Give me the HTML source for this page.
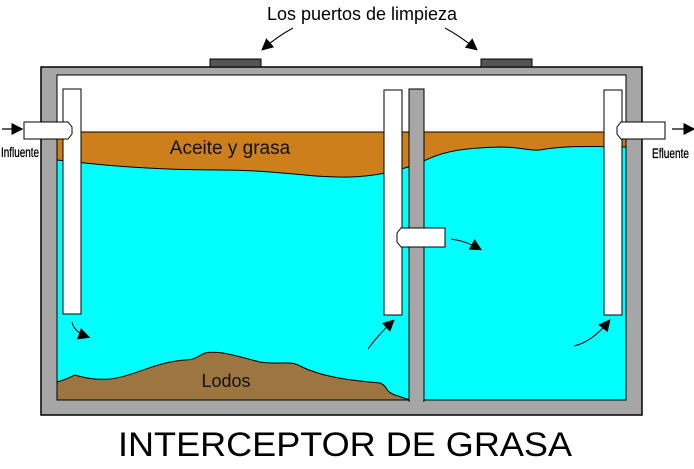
<!DOCTYPE html>
<html><head><style>body{margin:0;background:#fff}svg{display:block}</style></head><body>
<svg width="694" height="469" viewBox="0 0 694 469" xmlns="http://www.w3.org/2000/svg" font-family="Liberation Sans, sans-serif">
<defs><marker id="ah" viewBox="0 0 10 10" refX="8" refY="5" markerWidth="12" markerHeight="12" markerUnits="userSpaceOnUse" orient="auto"><path d="M0,0L10,5L0,10z" fill="#000"/></marker></defs>
<rect x="41" y="67" width="601" height="348" fill="#a6a6a6" stroke="#000" stroke-width="1.5"/>
<rect x="57" y="75" width="569" height="325" fill="#fff" stroke="#000" stroke-width="1"/>
<rect x="57" y="132" width="569" height="50" fill="#cc7f1a" stroke="#000" stroke-width="1"/>
<path d="M57,160 C100,165 150,170 220,170 C280,170 310,178 350,177 C380,176 400,170 420,163 C440,152 460,148 500,147 C520,147 530,151 540,150 C560,146 590,146 626,147 L626,400 L57,400 Z" fill="#00ffff" stroke="#000" stroke-width="1"/>
<path d="M57,382 C65,380 70,377 75,375 C85,378 95,380 110,379 C135,376 155,362 185,360 C195,360 198,356 205,353 C220,350 240,357 260,362 C280,365 290,360 300,366 C320,376 345,380 380,383 C388,386 385,392 395,395 L410,400 L57,400 Z" fill="#9c7540" stroke="#000" stroke-width="1"/>
<rect x="409" y="89" width="15" height="312" fill="#a6a6a6" stroke="#000" stroke-width="1"/>
<rect x="410" y="399" width="13" height="15" fill="#a6a6a6"/>
<rect x="63" y="89" width="18" height="225" fill="#fff" stroke="#000" stroke-width="1"/>
<rect x="384" y="90" width="18" height="225" fill="#fff" stroke="#000" stroke-width="1"/>
<rect x="604" y="90" width="18" height="225" fill="#fff" stroke="#000" stroke-width="1"/>
<path d="M24,122 L68,122 L72,127 L72,134 L68,139 L24,139 Z" fill="#fff" stroke="#000" stroke-width="1"/>
<path d="M665,122 L621,122 L617,127 L617,134 L621,139 L665,139 Z" fill="#fff" stroke="#000" stroke-width="1"/>
<path d="M445,228 L401,228 L397,233 L397,242 L401,247 L445,247 Z" fill="#fff" stroke="#000" stroke-width="1"/>
<rect x="210" y="59" width="51" height="8" fill="#555" stroke="#000" stroke-width="1"/>
<rect x="481" y="59" width="51" height="8" fill="#555" stroke="#000" stroke-width="1"/>
<line x1="2" y1="129" x2="21" y2="129" stroke="#000" stroke-width="1.2" marker-end="url(#ah)"/>
<line x1="672" y1="129" x2="693" y2="129" stroke="#000" stroke-width="1.2" marker-end="url(#ah)"/>
<path d="M72,322 Q74,332 88,337" fill="none" stroke="#000" stroke-width="1" marker-end="url(#ah)"/>
<path d="M368,349 Q378,335 393,321" fill="none" stroke="#000" stroke-width="1" marker-end="url(#ah)"/>
<path d="M574,346 Q592,342 609,321" fill="none" stroke="#000" stroke-width="1" marker-end="url(#ah)"/>
<path d="M451,239 Q466,241 480,249" fill="none" stroke="#000" stroke-width="1" marker-end="url(#ah)"/>
<path d="M293,28 Q278,36 263,49" fill="none" stroke="#000" stroke-width="1" marker-end="url(#ah)"/>
<path d="M445,28 Q460,36 476,49" fill="none" stroke="#000" stroke-width="1" marker-end="url(#ah)"/>
<text x="362" y="20" font-size="18" text-anchor="middle">Los puertos de limpieza</text>
<text x="230" y="154" font-size="19" text-anchor="middle" fill="#111">Aceite y grasa</text>
<text x="226" y="387" font-size="18" text-anchor="middle" fill="#111">Lodos</text>
<text x="1" y="157" font-size="14" stroke="#000" stroke-width="0.3" textLength="38" lengthAdjust="spacingAndGlyphs">Influente</text>
<text x="652" y="158" font-size="14" stroke="#000" stroke-width="0.3" textLength="37" lengthAdjust="spacingAndGlyphs">Efluente</text>
<text x="118" y="456" font-size="34" textLength="454" lengthAdjust="spacingAndGlyphs">INTERCEPTOR DE GRASA</text>
</svg>
</body></html>
